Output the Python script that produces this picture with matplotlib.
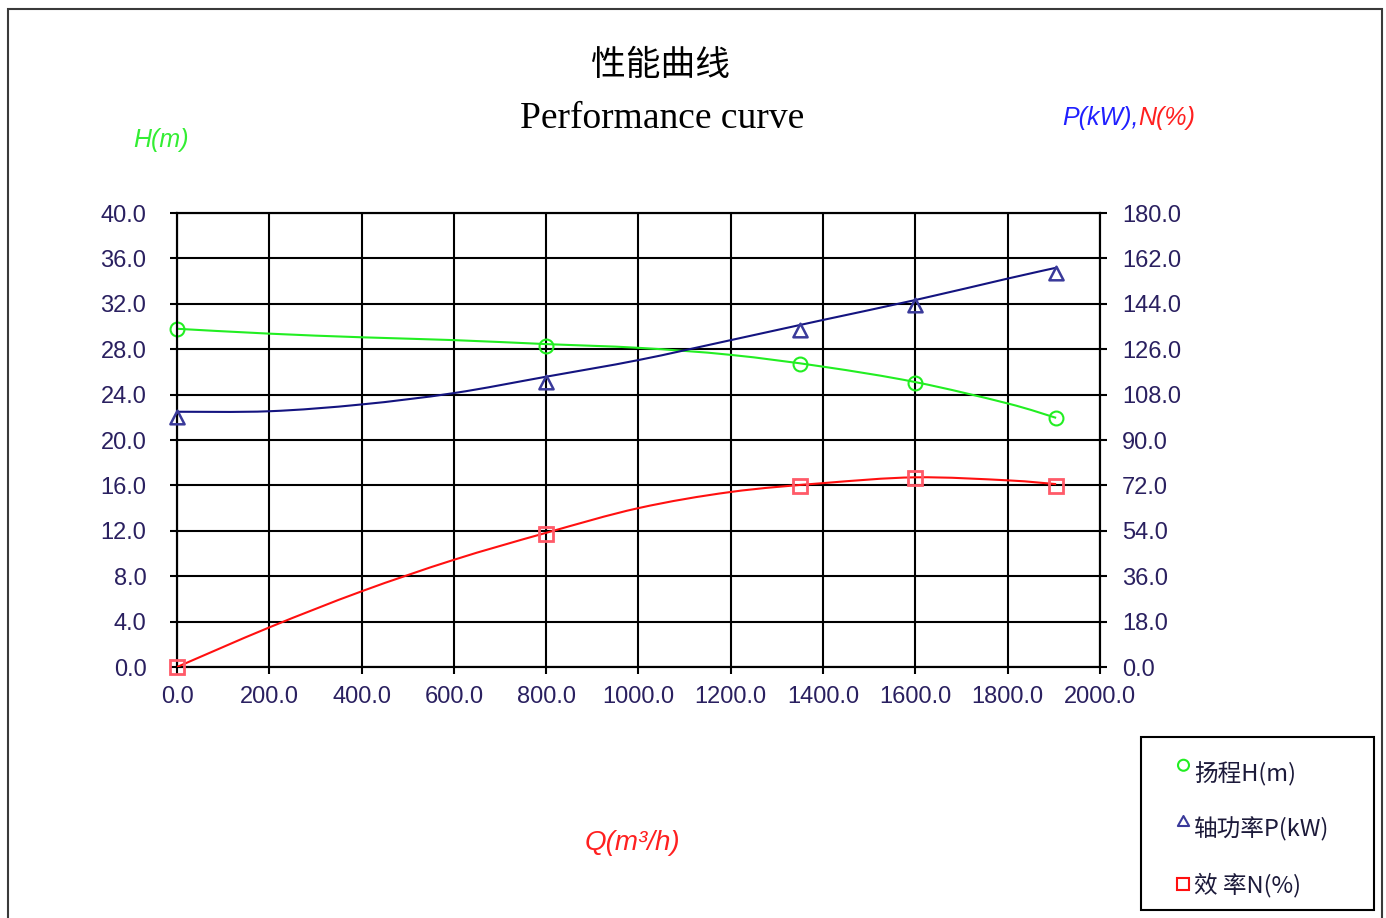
"""
Pump performance curve: head, shaft power and efficiency vs flow.
"""

import numpy as np
import matplotlib
matplotlib.use("Agg")
import matplotlib.pyplot as plt
from matplotlib.path import Path
from matplotlib.patches import PathPatch, Rectangle
from matplotlib.lines import Line2D
from matplotlib.ticker import FormatStrFormatter

# ── DATA ────────────────────────────────────────────────────────────
# measured points (markers)
Q = [0, 800, 1350, 1600, 1905]                    # m3/h
HEAD = [29.8, 28.3, 26.66, 25.05, 21.92]          # m  (left axis)
POWER = [101.2, 115.1, 135.6, 145.5, 158.3]       # kW (right axis)
EFF = [0.0, 52.8, 71.8, 74.9, 71.9]               # %  (right axis)

# fitted curves
Q_CURVE = [0, 200, 400, 600, 800, 1000, 1200, 1400, 1600, 1800, 1905]
HEAD_CURVE = [29.8, 29.37, 29.05, 28.8, 28.45, 28.12, 27.5, 26.46, 25.1, 23.22, 21.95]
POWER_CURVE = [101.2, 101.4, 104.1, 108.6, 115.1, 121.7, 129.6, 137.6, 145.5, 154.0, 158.3]
EFF_CURVE = [0.0, 15.7, 30.0, 42.5, 53.2, 63.0, 69.4, 72.9, 75.2, 74.0, 72.5]

LEFT_TICKS = [0, 4, 8, 12, 16, 20, 24, 28, 32, 36, 40]
RIGHT_TICKS = [0, 18, 36, 54, 72, 90, 108, 126, 144, 162, 180]
X_TICKS = [0, 200, 400, 600, 800, 1000, 1200, 1400, 1600, 1800, 2000]

LEGEND_LABELS = ["扬程H(m)", "轴功率P(kW)", "效 率N(%)"]
# ────────────────────────────────────────────────────────────────────

W, H = 1386, 918
GREEN = "#22ee22"
NAVY = "#141480"
TRI = "#3a3a9a"
RED = "#ff1010"
SQUARE = "#ff5a68"
TICK_COLOR = "#2a2060"
CJK = ["Noto Sans CJK SC", "DejaVu Sans"]

# Excel draws the triangle hanging below the point
TRI_DOWN = Path([(0, 0.15), (-0.6, -1), (0.6, -1), (0, 0.15)],
                [Path.MOVETO, Path.LINETO, Path.LINETO, Path.CLOSEPOLY])
# legend symbols sit a little above the text centre
CIRCLE_UP = Path.circle((0, 0.6), 0.4)
TRI_UP = Path([(0, 1), (-0.45, 0.2), (0.45, 0.2), (0, 1)],
              [Path.MOVETO, Path.LINETO, Path.LINETO, Path.CLOSEPOLY])


def smooth_path(xs, ys):
    # cubic bezier through every point (catmull-rom style)
    pts = np.column_stack([xs, ys]).astype(float)
    ext = np.vstack([pts[0], pts, pts[-1]])
    verts = [pts[0]]
    codes = [Path.MOVETO]
    for i in range(len(pts) - 1):
        p0, p1, p2, p3 = ext[i], ext[i + 1], ext[i + 2], ext[i + 3]
        verts += [p1 + (p2 - p0) / 6, p2 - (p3 - p1) / 6, p2]
        codes += [Path.CURVE4] * 3
    return Path(verts, codes)


def px(x, y):
    return x / W, 1 - y / H


def main():
    fig = plt.figure(figsize=(W / 100, H / 100), dpi=100)

    left, top = px(177, 213)
    right, bottom = px(1100, 667)
    ax = fig.add_axes([left, bottom, right - left, top - bottom])
    ax2 = ax.twinx()

    ax.set_xlim(0, 2000)
    ax.set_ylim(0, 40)
    ax2.set_ylim(0, 180)
    ax.set_xticks(X_TICKS)
    ax.set_yticks(LEFT_TICKS)
    ax2.set_yticks(RIGHT_TICKS)
    ax.xaxis.set_major_formatter(FormatStrFormatter("%.1f"))
    ax.yaxis.set_major_formatter(FormatStrFormatter("%.1f"))
    ax2.yaxis.set_major_formatter(FormatStrFormatter("%.1f"))

    ax.grid(True, color="black", lw=1.5)
    ax.set_axisbelow(True)
    for a in (ax, ax2):
        for s in a.spines.values():
            s.set_linewidth(1.5)
            s.set_color("black")
    tick_kw = dict(direction="out", length=5, width=1.5, labelsize=17, labelcolor=TICK_COLOR)
    ax.tick_params(axis="x", pad=9, **tick_kw)
    ax.tick_params(axis="y", pad=17, **tick_kw)
    ax2.tick_params(axis="y", pad=11, **tick_kw)
    for lab in ax.get_xticklabels() + ax.get_yticklabels() + ax2.get_yticklabels():
        lab.set_family("Liberation Sans")

    # curves
    ax.add_patch(PathPatch(smooth_path(Q_CURVE, HEAD_CURVE), fill=False,
                           edgecolor=GREEN, lw=1.5, zorder=3))
    ax2.add_patch(PathPatch(smooth_path(Q_CURVE, POWER_CURVE), fill=False,
                            edgecolor=NAVY, lw=1.5, zorder=3))
    ax2.add_patch(PathPatch(smooth_path(Q_CURVE, EFF_CURVE), fill=False,
                            edgecolor=RED, lw=1.5, zorder=3))

    # measured points
    ax.plot(Q, HEAD, ls="none", marker="o", ms=10, mfc="none", mec=GREEN,
            mew=1.5, zorder=4, clip_on=False)
    ax2.plot(Q, POWER, ls="none", marker=TRI_DOWN, ms=17, mfc="none", mec=TRI,
             mew=1.8, zorder=4, clip_on=False)
    ax2.plot(Q, EFF, ls="none", marker="s", ms=10, mfc="none", mec=SQUARE,
             mew=2, zorder=4, clip_on=False)

    # titles and axis names
    fig.text(*px(661, 65), "性能曲线", family=CJK, fontsize=25, ha="center", va="center")
    fig.text(*px(662, 119), "Performance curve", family="Liberation Serif", fontsize=27,
             ha="center", va="center")
    fig.text(*px(161, 140), "H(m)", family="Liberation Sans", style="italic", fontsize=18,
             color="#33ee33", ha="center", va="center")
    t = fig.text(*px(1062, 118), "P(kW),", family="Liberation Sans", style="italic",
                 fontsize=18, color="#2020ff", ha="left", va="center")
    fig.canvas.draw()
    bb = t.get_window_extent()
    fig.text(bb.x1 / W, 1 - 118 / H, "N(%)", family="Liberation Sans", style="italic",
             fontsize=18, color="#ff2020", ha="left", va="center")
    fig.text(*px(632, 843), "Q(m³/h)", family="Liberation Sans", style="italic", fontsize=20,
             color="#ff2020", ha="center", va="center")

    # legend box
    fig.add_artist(Rectangle(px(1141, 910), (1374 - 1141) / W, (910 - 737) / H,
                             transform=fig.transFigure, fill=False, edgecolor="black", lw=1.5))
    handles = [
        Line2D([], [], ls="none", marker=CIRCLE_UP, ms=19.8, mfc="none", mec=GREEN, mew=1.5),
        Line2D([], [], ls="none", marker=TRI_UP, ms=18, mfc="none", mec=TRI, mew=1.5),
        Line2D([], [], ls="none", marker="s", ms=8.5, mfc="none", mec=RED, mew=1.5),
    ]
    leg = fig.legend(handles, LEGEND_LABELS, loc="upper left", bbox_to_anchor=px(1176, 762),
                     frameon=False, handlelength=0.6, handletextpad=0.15, labelspacing=1.3,
                     borderpad=0, borderaxespad=0, prop={"family": CJK, "size": 17})
    for txt in leg.get_texts():
        txt.set_color("#1c1a3a")

    # outer frame of the screenshot
    fig.add_artist(Rectangle((8 / W, -0.1), (1382 - 8) / W, 1.1 - 9 / H,
                             transform=fig.transFigure, fill=False, edgecolor="#3a3a3a",
                             lw=1.5, clip_on=False))

    fig.savefig("out.png", dpi=100)
    plt.close(fig)


if __name__ == "__main__":
    main()
